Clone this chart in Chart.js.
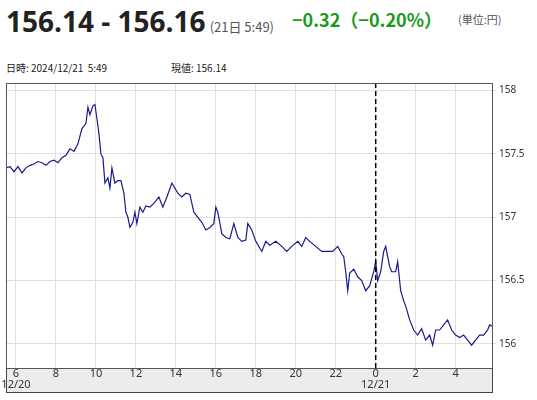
<!DOCTYPE html>
<html>
<head>
<meta charset="utf-8">
<script src="https://cdn.jsdelivr.net/npm/chart.js@4"></script>
<style>
body { margin:0; width:537px; height:400px; background:#fff; font-family:"Noto Sans CJK JP","Noto Sans",sans-serif; position:relative; overflow:hidden; }
#head { position:absolute; left:6px; top:2px; white-space:nowrap; }
#price { font-size:28px; font-weight:bold; color:#222; font-family:"Open Sans","Noto Sans",sans-serif; }
#time { font-size:13px; color:#555; margin-left:4px; }
#chg { font-size:18px; font-weight:bold; color:#1a9a1a; position:absolute; left:292px; top:6px; }
#unit { font-size:11px; color:#555; position:absolute; left:458px; top:11px; }
#info { position:absolute; left:6px; top:60px; font-size:10px; color:#222; }
#info span { position:absolute; left:165px; white-space:nowrap; }
#wrap { position:absolute; left:0; top:74px; width:537px; height:326px; }
</style>
</head>
<body>
<div id="head"><span id="price">156.14 - 156.16</span><span id="time">(21日 5:49)</span></div>
<div id="chg">−0.32（−0.20%）</div>
<div id="unit">(単位:円)</div>
<div id="info"><span style="left:0">日時: 2024/12/21&nbsp;&nbsp;5:49</span><span>現値: 156.14</span></div>
<div id="wrap"><canvas id="grafico"></canvas></div>
<script>
// horas desde 0:00 de 12/20
const HORAS = [5.5,5.7,5.9,6.1,6.3,6.5,6.7,6.9,7.1,7.3,7.5,7.7,7.9,8.1,8.3,8.5,8.7,8.9,9.1,9.3,9.5,9.6,9.7,9.85,9.95,10.05,10.15,10.25,10.35,10.45,10.6,10.7,10.8,10.95,11.1,11.25,11.4,11.5,11.6,11.7,11.85,11.95,12.05,12.2,12.35,12.5,12.7,12.95,13.15,13.35,13.55,13.8,13.95,14.1,14.3,14.5,14.7,14.9,15.1,15.3,15.5,15.7,15.9,16.0,16.1,16.3,16.5,16.7,16.9,17.1,17.3,17.5,17.6,17.8,18.0,18.3,18.5,18.7,19.0,19.3,19.55,19.8,20.1,20.3,20.5,20.7,21.0,21.3,21.5,21.85,22.1,22.3,22.4,22.5,22.6,22.7,22.9,23.1,23.3,23.5,23.7,23.9,24.0,24.1,24.25,24.4,24.5,24.6,24.7,24.8,25.0,25.1,25.25,25.4,25.5,25.7,25.9,26.1,26.3,26.5,26.7,26.85,27.0,27.2,27.4,27.6,27.8,28.0,28.2,28.4,28.6,28.8,29.0,29.2,29.4,29.6,29.7,29.82];
const PRECOS = [157.39,157.40,157.36,157.40,157.35,157.39,157.41,157.42,157.44,157.43,157.41,157.44,157.45,157.43,157.47,157.49,157.54,157.52,157.58,157.70,157.74,157.87,157.81,157.88,157.89,157.78,157.66,157.50,157.47,157.27,157.31,157.23,157.39,157.27,157.29,157.29,157.19,157.04,157.00,156.92,156.96,157.04,156.95,157.08,157.04,157.09,157.08,157.12,157.16,157.08,157.16,157.27,157.23,157.19,157.16,157.19,157.18,157.04,157.00,156.96,156.90,156.92,156.95,157.08,157.04,156.87,156.84,156.83,156.95,156.84,156.81,156.82,156.95,156.90,156.81,156.73,156.81,156.78,156.81,156.77,156.73,156.77,156.81,156.77,156.84,156.81,156.77,156.73,156.73,156.73,156.77,156.71,156.69,156.57,156.42,156.56,156.59,156.53,156.50,156.42,156.46,156.57,156.65,156.50,156.57,156.73,156.77,156.69,156.61,156.57,156.57,156.65,156.42,156.34,156.30,156.19,156.11,156.07,156.12,156.03,156.07,155.99,156.11,156.11,156.15,156.19,156.11,156.07,156.05,156.07,156.03,155.99,156.03,156.07,156.07,156.11,156.15,156.14];
const TICKS_X = [6,8,10,12,14,16,18,20,22,24,26,28];
const ROTULOS_X = [['6','12/20'],'8','10','12','14','16','18','20','22',['0','12/21'],'2','4'];
const TICKS_Y = [156,156.5,157,157.5,158];
const ROTULOS_Y = ['156','156.5','157','157.5','158'];
const LINHA_DIA = 24;

const fundoEixo = {
    id: 'fundoEixo',
    beforeDraw(chart) {
        const c = chart.ctx, a = chart.chartArea;
        c.save();
        c.fillStyle = '#ececec';
        c.fillRect(a.left, a.bottom, a.right - a.left, 24);
        c.strokeStyle = '#444';
        c.lineWidth = 1;
        c.strokeRect(a.left + 0.5, a.bottom + 0.5, a.right - a.left, 24);
        c.restore();
    },
    afterDatasetsDraw(chart) {
        const c = chart.ctx, a = chart.chartArea;
        const x = chart.scales.x.getPixelForValue(LINHA_DIA);
        c.save();
        c.strokeStyle = '#000';
        c.lineWidth = 1.5;
        c.setLineDash([5, 3]);
        c.beginPath(); c.moveTo(x, a.top); c.lineTo(x, a.bottom); c.stroke();
        c.setLineDash([]);
        c.strokeStyle = '#555';
        c.lineWidth = 1;
        c.strokeRect(a.left + 0.5, a.top + 0.5, a.right - a.left, a.bottom - a.top);
        c.restore();
    }
};

new Chart(document.getElementById('grafico'), {
    type: 'line',
    data: { datasets: [{
        data: HORAS.map(function(h, i) { return { x: h, y: PRECOS[i] }; }),
        borderColor: '#1a1a8c', borderWidth: 1.2, pointRadius: 0, tension: 0
    }]},
    options: {
        responsive: true, maintainAspectRatio: false, animation: false,
        layout: { padding: { left: 6, top: 4, bottom: 8 } },
        plugins: { legend: { display: false }, tooltip: { enabled: false } },
        scales: {
            x: {
                type: 'linear', min: 5.5, max: 29.82,
                afterBuildTicks: function(s) { s.ticks = TICKS_X.map(function(v) { return { value: v }; }); },
                afterFit: function(s) { s.height = 24; },
                grid: { color: '#e0e0e0', drawTicks: false },
                border: { display: false },
                ticks: { color: '#333', font: { size: 11, family: 'Noto Sans', lineHeight: 0.95 }, padding: 1, maxRotation: 0, autoSkip: false,
                    callback: function(v) { return ROTULOS_X[TICKS_X.indexOf(v)]; } }
            },
            y: {
                position: 'right', min: 155.81, max: 158.06,
                afterBuildTicks: function(s) { s.ticks = TICKS_Y.map(function(v) { return { value: v }; }); },
                afterFit: function(s) { s.width = 45; },
                grid: { color: '#e0e0e0', tickLength: 4 },
                border: { display: false },
                ticks: { color: '#333', font: { size: 10, family: 'Noto Sans' }, padding: 3,
                    callback: function(v) { return ROTULOS_Y[TICKS_Y.indexOf(v)]; } }
            }
        }
    },
    plugins: [fundoEixo]
});
</script>
</body>
</html>
